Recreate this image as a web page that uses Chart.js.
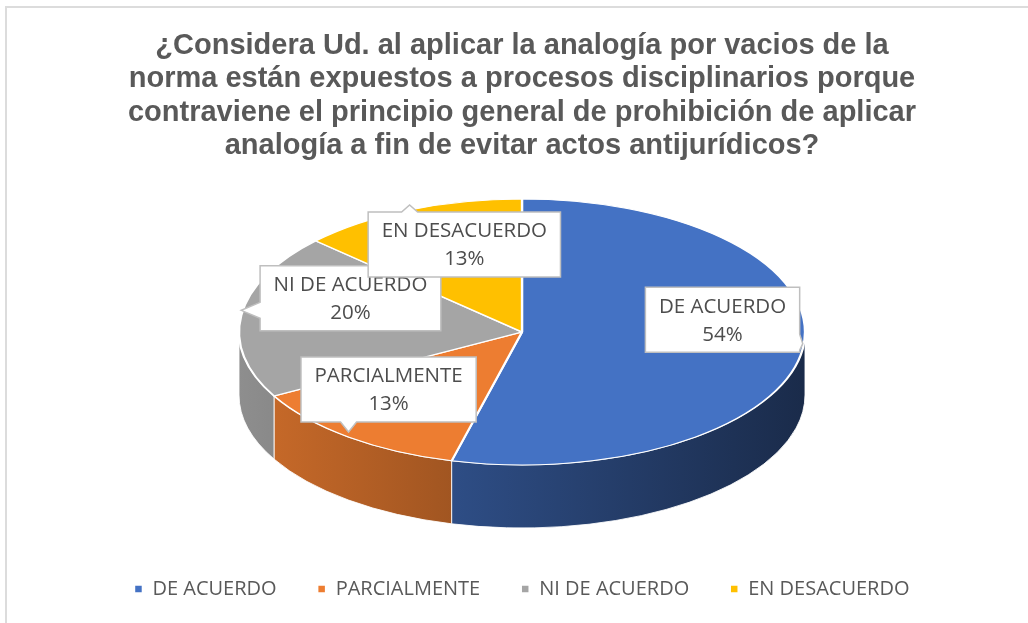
<!DOCTYPE html>
<html>
<head>
<meta charset="utf-8">
<script src="https://cdn.jsdelivr.net/npm/chart.js@4.4.0/dist/chart.umd.min.js"></script>
<style>
  html, body { margin: 0; padding: 0; background: #fff; }
  #wrap { position: relative; width: 1028px; height: 623px; overflow: hidden; }
  #marco { position: absolute; left: 5px; top: 6px; width: 1100px; height: 700px; border: 2px solid #dcdcdc; }
  #grafico { position: absolute; left: 0; top: 0; }
</style>
</head>
<body>
<div id="wrap">
  <div id="marco"></div>
  <canvas id="grafico" width="1028" height="623"></canvas>
</div>
<script>
// Datos del gráfico
const categorias = ['DE ACUERDO', 'PARCIALMENTE', 'NI DE ACUERDO', 'EN DESACUERDO'];
const porcentajes = [54, 13, 20, 13];
const colores = ['#4472C4', '#ED7D31', '#A5A5A5', '#FFC000'];
const titulo = [
  '¿Considera Ud. al aplicar la analogía por vacios de la',
  'norma están expuestos a procesos disciplinarios porque',
  'contraviene el principio general de prohibición de aplicar',
  'analogía a fin de evitar actos antijurídicos?'
];

// Geometría del pastel 3D (elipse de la cara superior + profundidad)
const elipse = { cx: 522, cy: 332, rx: 283, ry: 133, prof: 63 };
// pequeños ajustes de las etiquetas (x, y)
const ajustes = [[4, -4], [-12, 4], [25, -2], [21, 18]];

function oscurecer(hex, f) {
  const n = parseInt(hex.slice(1), 16);
  const r = Math.round(((n >> 16) & 255) * f);
  const g = Math.round(((n >> 8) & 255) * f);
  const b = Math.round((n & 255) * f);
  return `rgb(${r},${g},${b})`;
}

// Caja con flecha (llamada) hacia el punto px, py
function dibujarLlamada(ctx, x, y, w, h, px, py) {
  const r = x + w, b = y + h;
  const m = 8;
  const lim = (v, a, c) => Math.max(a + 2, Math.min(c - 2 - 2 * m, v - m));
  ctx.beginPath();
  ctx.moveTo(x, y);
  if (py < y && px >= x && px <= r) {
    const s = lim(px, x, r);
    ctx.lineTo(s, y); ctx.lineTo(px, py); ctx.lineTo(s + 2 * m, y);
  }
  ctx.lineTo(r, y);
  if (px > r) {
    const s = lim(py, y, b);
    ctx.lineTo(r, s); ctx.lineTo(px, py); ctx.lineTo(r, s + 2 * m);
  }
  ctx.lineTo(r, b);
  if (py > b && px >= x && px <= r) {
    const s = lim(px, x, r);
    ctx.lineTo(s + 2 * m, b); ctx.lineTo(px, py); ctx.lineTo(s, b);
  }
  ctx.lineTo(x, b);
  if (px < x) {
    const s = lim(py, y, b);
    ctx.lineTo(x, s + 2 * m); ctx.lineTo(px, py); ctx.lineTo(x, s);
  }
  ctx.closePath();
  ctx.fillStyle = '#ffffff';
  ctx.fill();
  ctx.strokeStyle = '#bfbfbf';
  ctx.lineWidth = 1.5;
  ctx.stroke();
}

const pastel3d = {
  id: 'pastel3d',
  beforeDatasetsDraw(chart) {
    const ctx = chart.ctx;
    const arcos = chart.getDatasetMeta(0).data;
    const e = elipse;
    // paredes laterales visibles (mitad delantera)
    arcos.forEach((arco, i) => {
      [[0, Math.PI], [2 * Math.PI, 3 * Math.PI]].forEach(([lo, hi]) => {
        const a = Math.max(arco.startAngle, lo);
        const b = Math.min(arco.endAngle, hi);
        if (b <= a) return;
        const grad = ctx.createLinearGradient(e.cx - e.rx, 0, e.cx + e.rx, 0);
        grad.addColorStop(0, oscurecer(colores[i], 0.86));
        grad.addColorStop(1, oscurecer(colores[i], 0.38));
        ctx.save();
        ctx.beginPath();
        ctx.ellipse(e.cx, e.cy, e.rx, e.ry, 0, a, b, false);
        ctx.ellipse(e.cx, e.cy + e.prof, e.rx, e.ry, 0, b, a, true);
        ctx.closePath();
        ctx.fillStyle = grad;
        ctx.fill();
        ctx.strokeStyle = 'rgba(255,255,255,0.85)';
        ctx.lineWidth = 1;
        ctx.stroke();
        ctx.restore();
      });
    });
    // cara superior: se aplasta el círculo de Chart.js a la elipse
    const a0 = arcos[0];
    ctx.save();
    ctx.translate(e.cx, e.cy);
    ctx.scale(e.rx / a0.outerRadius, e.ry / a0.outerRadius);
    ctx.translate(-a0.x, -a0.y);
  },
  afterDatasetsDraw(chart) {
    const ctx = chart.ctx;
    ctx.restore();
    const arcos = chart.getDatasetMeta(0).data;
    const e = elipse;
    ctx.save();
    ctx.font = '20.5px "Open Sans"';
    ctx.textAlign = 'center';
    ctx.textBaseline = 'middle';
    arcos.forEach((arco, i) => {
      const medio = (arco.startAngle + arco.endAngle) / 2;
      const c = Math.cos(medio), s = Math.sin(medio);
      const bx = e.cx + e.rx * 0.7 * c + ajustes[i][0];
      const by = e.cy - 20 + e.ry * 0.7 * s + ajustes[i][1];
      const px = e.cx + e.rx * c;
      const py = e.cy - 5 + e.ry * s;
      const t1 = categorias[i], t2 = porcentajes[i] + '%';
      const w = Math.max(ctx.measureText(t1).width, ctx.measureText(t2).width) + 27;
      const h = 65;
      dibujarLlamada(ctx, bx - w / 2, by - h / 2, w, h, px, py);
      ctx.fillStyle = '#4d4d4d';
      ctx.fillText(t1, bx, by - 13);
      ctx.fillText(t2, bx, by + 15);
    });
    ctx.restore();
  }
};

const ctx = document.getElementById('grafico').getContext('2d');
const grafico = new Chart(ctx, {
  type: 'pie',
  data: {
    labels: categorias,
    datasets: [{
      data: porcentajes,
      backgroundColor: colores,
      borderColor: '#ffffff',
      borderWidth: 1.5,
      clip: false
    }]
  },
  options: {
    responsive: false,
    animation: false,
    events: [],
    layout: { padding: { left: 16, right: 0, top: 0, bottom: 14 } },
    plugins: {
      title: {
        display: true,
        text: titulo,
        color: '#595959',
        font: { family: '"Liberation Sans", Arial, sans-serif', size: 29, weight: 'bold', lineHeight: 1.155 },
        padding: { top: 29, bottom: 10 }
      },
      legend: {
        position: 'bottom',
        labels: {
          boxWidth: 8,
          boxHeight: 8,
          padding: 41,
          color: '#595959',
          font: { family: '"Open Sans"', size: 20 }
        }
      },
      tooltip: { enabled: false }
    }
  },
  plugins: [pastel3d]
});
</script>
</body>
</html>
